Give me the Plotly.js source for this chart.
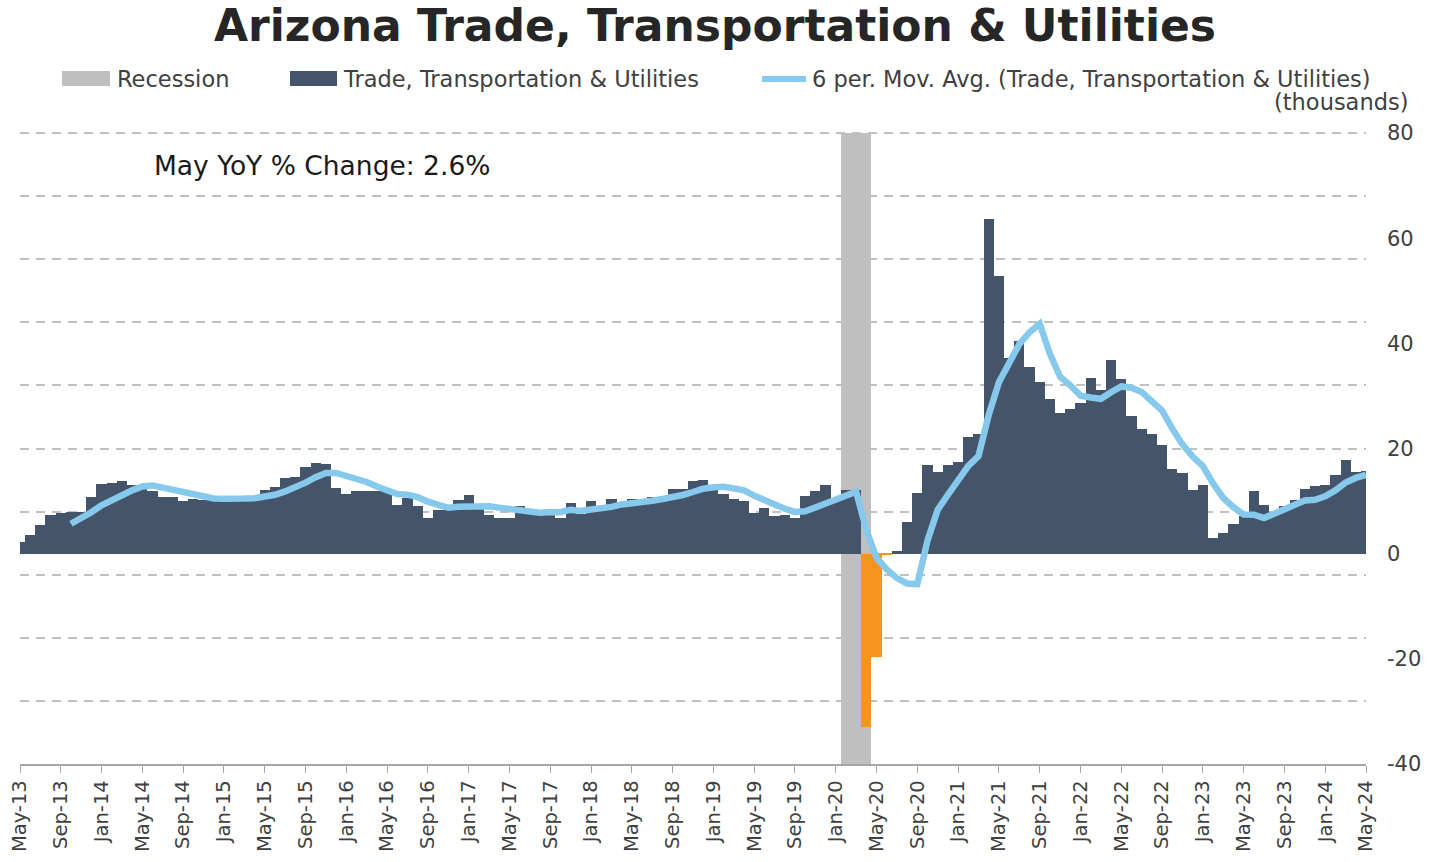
<!DOCTYPE html>
<html>
<head>
<meta charset="utf-8">
<script src="https://cdn.plot.ly/plotly-3.0.1.min.js"></script>
<style>html,body{margin:0;padding:0;background:#fff;}#chart{width:1430px;height:862px;}</style>
</head>
<body>
<div id="chart"></div>
<script>
// ---- Data (year-over-year change, thousands) ----
const monthNames = ['Jan','Feb','Mar','Apr','May','Jun','Jul','Aug','Sep','Oct','Nov','Dec'];
const months = [];
for (let k = 0; k < 133; k++) {
  const m = (4 + k) % 12;
  const y = 13 + Math.floor((4 + k) / 12);
  months.push(monthNames[m] + '-' + y);
}

const values = [
  2.2, 3.5, 5.4, 7.4, 7.7, 8.0, 8.0, 10.8,          // May-13 .. Dec-13
  13.3, 13.4, 13.8, 13.0, 12.4, 12.0, 10.8, 10.8, 10.0, 10.5, 10.3, 10.6, // 2014
  10.5, 10.4, 10.6, 11.0, 12.1, 12.6, 14.4, 14.6, 16.4, 17.2, 17.0, 12.5, // 2015
  11.4, 11.9, 11.9, 12.0, 11.8, 9.2, 10.6, 9.0, 6.8, 8.4, 8.4, 10.3,      // 2016
  11.2, 8.5, 7.4, 6.8, 6.8, 9.1, 8.4, 8.2, 8.2, 6.7, 9.6, 7.6,            // 2017
  10.1, 8.9, 10.5, 9.5, 10.5, 10.3, 10.8, 10.8, 12.3, 12.3, 13.9, 14.1,   // 2018
  12.5, 11.4, 10.4, 10.1, 7.7, 8.6, 7.1, 7.4, 6.8, 10.9, 12.0, 13.0,      // 2019
  10.5, 12.2, 12.2, -33.0, -19.6, -0.3, 0.6, 6.1, 11.5, 16.8, 15.5, 16.8, // 2020
  17.4, 22.2, 22.8, 63.6, 52.9, 37.3, 40.4, 35.6, 32.6, 29.4, 26.7, 27.5, // 2021
  28.6, 33.5, 31.1, 36.9, 33.3, 26.1, 23.7, 22.8, 20.6, 16.2, 15.3, 12.2, // 2022
  13.0, 3.0, 3.9, 5.6, 7.1, 11.9, 9.2, 8.0, 9.0, 10.3, 12.3, 12.8,        // 2023
  13.0, 15.0, 17.9, 15.5, 15.7                                            // 2024
];

const recessionMonths = ['Feb-20', 'Mar-20', 'Apr-20'];
const recessionTop = [80, 80, 80];
const recessionBase = [-40, -40, -40];

const yTickVals = [-40, -20, 0, 20, 40, 60, 80];
const yTickText = ['-40', '-20', '0', '20', '40', '60', '80'];
const titleText = 'Arizona Trade, Transportation & Utilities';
const noteText = 'May YoY % Change: 2.6%';
const seriesName = 'Trade, Transportation & Utilities';
const maName = '6 per. Mov. Avg. (Trade, Transportation & Utilities)';
const recessionName = 'Recession';
const unitsText = '(thousands)';

// 6-period moving average trendline of the series (as in the source chart)
const maX = [], maY = [];
for (let i = 5; i < values.length; i++) {
  let s = 0;
  for (let j = i - 5; j <= i; j++) s += values[j];
  maX.push(months[i]);
  maY.push(s / 6);
}

// ---- Styling ----
const C_BAR = '#44546a', C_NEG = '#f7941f', C_MA = '#87c9ec', C_REC = '#bfbfbf';
const FONT = 'DejaVu Sans, Verdana, sans-serif';
const W = 1430, H = 862;
const M = {l: 20, r: 64, t: 131, b: 98};
const PW = W - M.l - M.r, PH = H - M.t - M.b;
const px = v => (v - M.l) / PW;
const py = v => (H - M.b - v) / PH;
const Y_RANGE = [-40, 80.4];

const traces = [
  {
    type: 'bar', name: recessionName, x: recessionMonths,
    y: recessionTop.map((t, i) => t - recessionBase[i]), base: recessionBase,
    width: 1, marker: {color: C_REC, line: {width: 0}},
    hoverinfo: 'skip', showlegend: false
  },
  {
    type: 'bar', name: seriesName, x: months, y: values, width: 1,
    marker: {color: values.map(v => v < 0 ? C_NEG : C_BAR), line: {width: 0}},
    showlegend: false
  },
  {
    type: 'scatter', mode: 'lines', name: maName, x: maX, y: maY, yaxis: 'y2',
    line: {color: C_MA, width: 6.5}, showlegend: false
  }
];

const layout = {
  width: W, height: H,
  margin: M,
  paper_bgcolor: '#fff', plot_bgcolor: '#fff',
  barmode: 'overlay', bargap: 0,
  showlegend: false,
  font: {family: FONT, color: '#404040', size: 20},
  title: {
    text: '<b>' + titleText + '</b>',
    font: {family: FONT, size: 44, color: '#262626'},
    x: 0.5, xanchor: 'center', xref: 'container',
    y: 1 - 26 / H, yanchor: 'middle', yref: 'container'
  },
  xaxis: {
    type: 'category', categoryorder: 'array', categoryarray: months,
    range: [0, months.length - 1],
    tickmode: 'linear', tick0: 0, dtick: 4,
    tickangle: -90, ticks: 'outside', ticklen: 7, tickcolor: '#a6a6a6',
    showline: true, linecolor: '#a6a6a6', linewidth: 1.5,
    showgrid: false, zeroline: false,
    tickfont: {family: FONT, size: 19.5, color: '#404040'}
  },
  yaxis: {
    range: Y_RANGE, tickmode: 'linear', tick0: -40, dtick: 12,
    showticklabels: false, ticks: '',
    showgrid: true, gridcolor: '#c0c0c0', gridwidth: 2, griddash: '9px,7px',
    zeroline: true, zerolinecolor: '#a6a6a6', zerolinewidth: 1.5
  },
  yaxis2: {
    overlaying: 'y', side: 'right', anchor: 'x',
    range: Y_RANGE, tickmode: 'array', tickvals: yTickVals, ticktext: yTickText,
    ticks: '', ticklabelstandoff: 20,
    showgrid: false, zeroline: false, showline: false,
    tickfont: {family: FONT, size: 21, color: '#404040'}
  },
  shapes: [
    {type: 'rect', xref: 'paper', yref: 'paper', x0: px(62), x1: px(110), y0: py(86), y1: py(71),
     fillcolor: C_REC, line: {width: 0}},
    {type: 'rect', xref: 'paper', yref: 'paper', x0: px(290), x1: px(337), y0: py(86), y1: py(71),
     fillcolor: C_BAR, line: {width: 0}},
    {type: 'line', xref: 'paper', yref: 'paper', x0: px(762), x1: px(806), y0: py(79), y1: py(79),
     line: {color: C_MA, width: 6}}
  ],
  annotations: [
    {text: recessionName, xref: 'paper', yref: 'paper', x: px(115), y: py(79),
     xanchor: 'left', yanchor: 'middle', showarrow: false, font: {family: FONT, size: 22.5, color: '#404040'}},
    {text: seriesName, xref: 'paper', yref: 'paper', x: px(341), y: py(79),
     xanchor: 'left', yanchor: 'middle', showarrow: false, font: {family: FONT, size: 22.5, color: '#404040'}},
    {text: maName, xref: 'paper', yref: 'paper', x: px(810), y: py(79),
     xanchor: 'left', yanchor: 'middle', showarrow: false, font: {family: FONT, size: 22.5, color: '#404040'}},
    {text: unitsText, xref: 'paper', yref: 'paper', x: px(1410), y: py(102),
     xanchor: 'right', yanchor: 'middle', showarrow: false, font: {family: FONT, size: 22.5, color: '#404040'}},
    {text: noteText, xref: 'paper', yref: 'paper', x: px(152), y: py(165),
     xanchor: 'left', yanchor: 'middle', showarrow: false, font: {family: FONT, size: 26.5, color: '#1a1a1a'}}
  ]
};

Plotly.newPlot('chart', traces, layout, {displayModeBar: false, staticPlot: true});
</script>
</body>
</html>
